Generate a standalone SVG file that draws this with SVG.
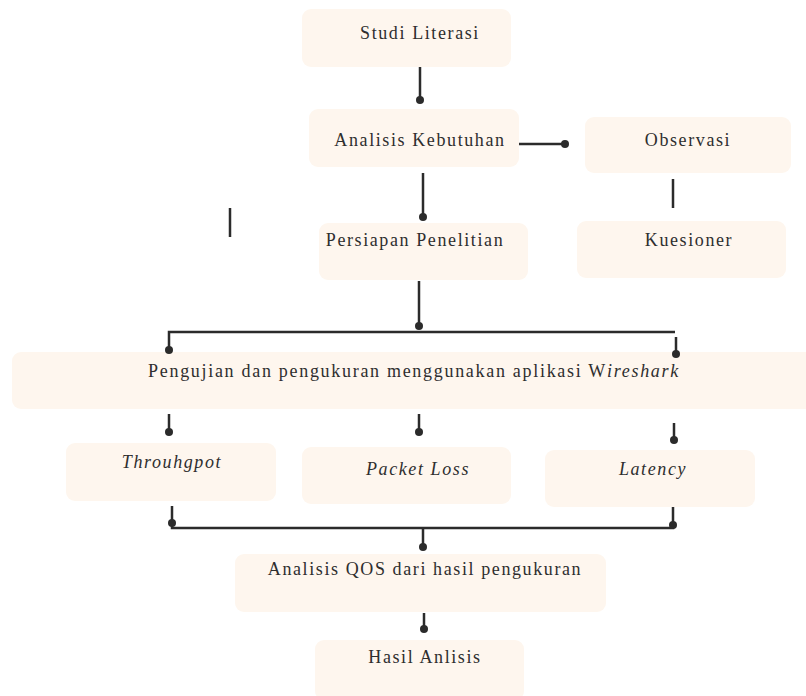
<svg xmlns="http://www.w3.org/2000/svg" width="806" height="696" viewBox="0 0 806 696">
<style>
.box{fill:#fef6ee;}
.t{font-family:'Liberation Serif','Times New Roman',serif;font-size:18px;fill:#2e2e2e;letter-spacing:1.6px;text-anchor:middle;}
.i{font-style:italic;}
.ln{stroke:#2b2b2b;stroke-width:2.5;fill:none;}
.dot{fill:#2b2b2b;}
</style>
<rect width="806" height="696" fill="#ffffff"/>
<g id="n-studi"><rect class="box" x="302" y="9" width="209" height="58" rx="9"/><text class="t" x="420" y="39">Studi Literasi</text></g>
<g id="n-analisis"><rect class="box" x="309" y="109" width="210" height="58" rx="9"/><text class="t" x="420" y="146">Analisis Kebutuhan</text></g>
<g id="n-observasi"><rect class="box" x="585" y="117" width="206" height="56" rx="9"/><text class="t" x="688" y="146">Observasi</text></g>
<g id="n-persiapan"><rect class="box" x="319" y="223" width="209" height="57" rx="9"/><text class="t" x="415" y="246">Persiapan Penelitian</text></g>
<g id="n-kuesioner"><rect class="box" x="577" y="221" width="209" height="57" rx="9"/><text class="t" x="689" y="246">Kuesioner</text></g>
<g id="n-wireshark"><rect class="box" x="12" y="352" width="810" height="57" rx="9"/><text class="t" x="414" y="377" style="letter-spacing:1.7px">Pengujian dan pengukuran menggunakan aplikasi W<tspan class="i">ireshark</tspan></text></g>
<g id="n-throughput"><rect class="box" x="66" y="443" width="210" height="58" rx="9"/><text class="t i" x="172" y="468">Throuhgpot</text></g>
<g id="n-packetloss"><rect class="box" x="302" y="447" width="209" height="57" rx="9"/><text class="t i" x="418" y="475">Packet Loss</text></g>
<g id="n-latency"><rect class="box" x="545" y="450" width="210" height="57" rx="9"/><text class="t i" x="653" y="475">Latency</text></g>
<g id="n-qos"><rect class="box" x="235" y="554" width="371" height="58" rx="9"/><text class="t" x="425" y="575">Analisis QOS dari hasil pengukuran</text></g>
<g id="n-hasil"><rect class="box" x="315" y="640" width="209" height="60" rx="9"/><text class="t" x="425" y="663">Hasil Anlisis</text></g>
<g id="connectors">
<path class="ln" d="M420 67V100"/><circle class="dot" cx="420" cy="100" r="4"/>
<path class="ln" d="M519 144H565"/><circle class="dot" cx="565" cy="144" r="4"/>
<path class="ln" d="M673 179V208"/>
<path class="ln" d="M423 173V217"/><circle class="dot" cx="423" cy="217" r="4"/>
<path class="ln" d="M230 208V237"/>
<path class="ln" d="M419 281V326"/><circle class="dot" cx="419" cy="326" r="4"/>
<path class="ln" d="M169 350V332H675"/><circle class="dot" cx="169" cy="350" r="4"/>
<path class="ln" d="M676 337V354"/><circle class="dot" cx="676" cy="354" r="4"/>
<path class="ln" d="M169 414V432"/><circle class="dot" cx="169" cy="432" r="4"/>
<path class="ln" d="M419 414V432"/><circle class="dot" cx="419" cy="432" r="4"/>
<path class="ln" d="M674 423V440"/><circle class="dot" cx="674" cy="440" r="4"/>
<path class="ln" d="M172 506V528H673V507"/><circle class="dot" cx="172" cy="523" r="4"/><circle class="dot" cx="673" cy="525" r="4"/>
<path class="ln" d="M423 528V547"/><circle class="dot" cx="423" cy="547" r="4"/>
<path class="ln" d="M424 613V629"/><circle class="dot" cx="424" cy="629" r="4"/>
</g>
</svg>
